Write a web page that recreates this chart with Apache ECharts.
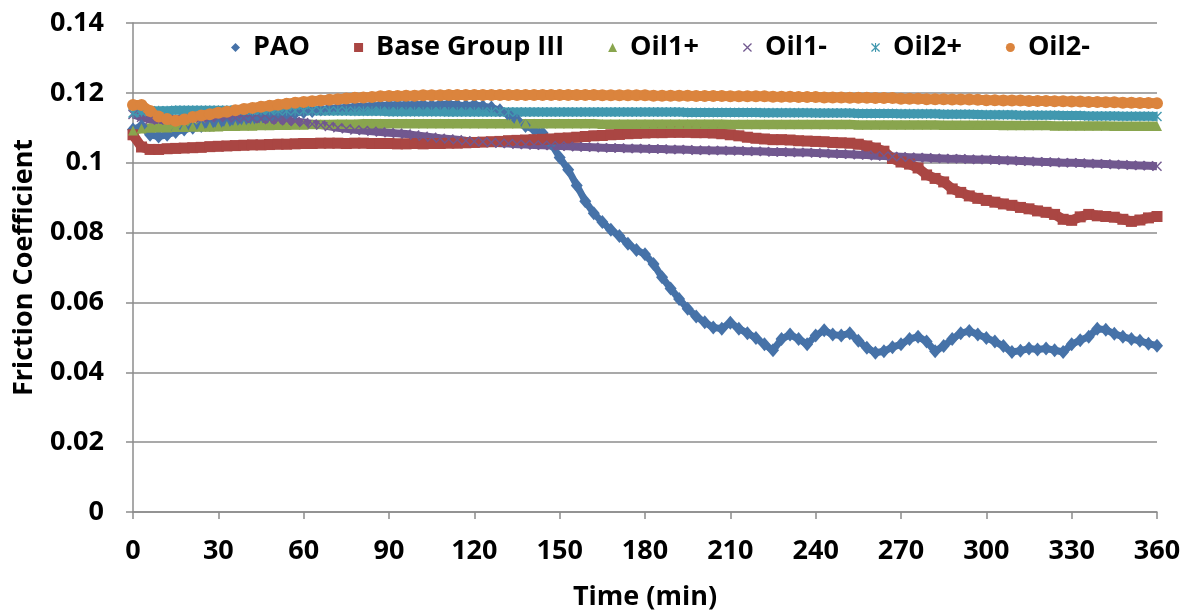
<!DOCTYPE html>
<html>
<head>
<meta charset="utf-8">
<script src="https://cdn.jsdelivr.net/npm/echarts@6/dist/echarts.min.js"></script>
<style>
html,body{margin:0;padding:0;background:#fff;}
#chart{width:1194px;height:616px;}
</style>
</head>
<body>
<div id="chart"></div>
<script>
// Time (min), sampled every 3 minutes
const time = [
  0,3,6,9,12,15,18,21,24,27,
  30,33,36,39,42,45,48,51,54,57,
  60,63,66,69,72,75,78,81,84,87,
  90,93,96,99,102,105,108,111,114,117,
  120,123,126,129,132,135,138,141,144,147,
  150,153,156,159,162,165,168,171,174,177,
  180,183,186,189,192,195,198,201,204,207,
  210,213,216,219,222,225,228,231,234,237,
  240,243,246,249,252,255,258,261,264,267,
  270,273,276,279,282,285,288,291,294,297,
  300,303,306,309,312,315,318,321,324,327,
  330,333,336,339,342,345,348,351,354,357,
  360
];

const seriesNames = ['PAO', 'Base Group III', 'Oil1+', 'Oil1-', 'Oil2+', 'Oil2-'];

const pao = [
  0.1095,0.1105,0.108,0.1075,0.108,0.1088,0.1095,0.110,0.1105,0.1108,
  0.111,0.1113,0.1118,0.112,0.1124,0.1128,0.113,0.1135,0.1138,0.1142,
  0.1145,0.1148,0.1152,0.1155,0.1157,0.1158,0.116,0.1162,0.1163,0.1164,
  0.1165,0.1166,0.1165,0.1167,0.1166,0.1164,0.1167,0.1168,0.1165,0.1163,
  0.1166,0.1162,0.1158,0.115,0.1138,0.1122,0.1105,0.1095,0.1085,0.1055,
  0.1015,0.098,0.0935,0.089,0.0855,0.083,0.0808,0.079,0.0768,0.075,
  0.0738,0.071,0.0672,0.064,0.061,0.0582,0.056,0.0543,0.0528,0.0525,
  0.0542,0.0525,0.0512,0.0498,0.048,0.0463,0.0495,0.0508,0.0495,0.048,
  0.0505,0.052,0.0508,0.0505,0.0512,0.049,0.047,0.0456,0.046,0.0472,
  0.048,0.0495,0.0502,0.0488,0.046,0.0475,0.0495,0.0512,0.0518,0.0508,
  0.0498,0.0488,0.0475,0.0458,0.0462,0.0468,0.0465,0.0468,0.0463,0.0458,
  0.048,0.0492,0.0502,0.0525,0.0522,0.051,0.0502,0.0495,0.049,0.0482,
  0.0476
];

const baseGroupIII = [
  0.108,0.1045,0.1038,0.1038,0.104,0.1041,0.1042,0.1043,0.1044,0.1046,
  0.1047,0.1048,0.1049,0.105,0.1051,0.1051,0.1052,0.1053,0.1053,0.1054,
  0.1055,0.1055,0.1056,0.1056,0.1056,0.1055,0.1056,0.1056,0.1055,0.1055,
  0.1055,0.1054,0.1054,0.1055,0.1054,0.1055,0.1055,0.1056,0.1056,0.1057,
  0.1058,0.1059,0.106,0.1061,0.1063,0.1064,0.1065,0.1066,0.1067,0.1068,
  0.107,0.1071,0.1073,0.1075,0.1077,0.1078,0.108,0.1081,0.1083,0.1084,
  0.1085,0.1086,0.1086,0.1087,0.1087,0.1087,0.1086,0.1086,0.1085,0.1083,
  0.108,0.1077,0.1073,0.107,0.1068,0.1066,0.1066,0.1065,0.1063,0.1062,
  0.1061,0.106,0.1058,0.1057,0.1056,0.1053,0.1048,0.1042,0.1033,0.1012,
  0.1002,0.0996,0.0985,0.0965,0.0955,0.0945,0.0925,0.0915,0.0905,0.0898,
  0.0892,0.0887,0.0882,0.0878,0.0872,0.0868,0.0862,0.0858,0.0852,0.0838,
  0.0835,0.0845,0.0852,0.0848,0.0846,0.0844,0.0838,0.0832,0.0836,0.0842,
  0.0846
];

const oil1Plus = [
  0.1092,0.1098,0.110,0.1101,0.1101,0.1102,0.1102,0.1103,0.1103,0.1103,
  0.1104,0.1105,0.1105,0.1106,0.1106,0.1107,0.1107,0.1108,0.1108,0.1109,
  0.1109,0.111,0.111,0.111,0.1111,0.1111,0.1111,0.1112,0.1112,0.1112,
  0.1112,0.1112,0.1112,0.1112,0.1112,0.1112,0.1112,0.1112,0.1112,0.1112,
  0.1112,0.1112,0.1112,0.1112,0.1112,0.1112,0.1112,0.1112,0.1112,0.1112,
  0.1112,0.1112,0.1112,0.1112,0.1112,0.1111,0.1111,0.1111,0.1111,0.1111,
  0.1111,0.1111,0.1111,0.1111,0.1111,0.1111,0.1111,0.1111,0.1111,0.1111,
  0.111,0.111,0.111,0.111,0.111,0.111,0.111,0.111,0.111,0.111,
  0.111,0.111,0.111,0.111,0.111,0.1109,0.1109,0.1109,0.1109,0.1109,
  0.1109,0.1109,0.1109,0.1109,0.1109,0.1108,0.1108,0.1108,0.1108,0.1108,
  0.1108,0.1108,0.1107,0.1107,0.1107,0.1107,0.1107,0.1107,0.1106,0.1106,
  0.1106,0.1106,0.1106,0.1106,0.1106,0.1105,0.1105,0.1105,0.1105,0.1105,
  0.1105
];

const oil1Minus = [
  0.1138,0.113,0.1124,0.1122,0.1123,0.1125,0.1127,0.1128,0.1129,0.1129,
  0.113,0.113,0.1129,0.1128,0.1127,0.1126,0.1124,0.1122,0.112,0.1118,
  0.1115,0.1111,0.1108,0.1104,0.11,0.1097,0.1094,0.1092,0.109,0.1088,
  0.1086,0.1084,0.1082,0.1079,0.1076,0.1073,0.107,0.1068,0.1066,0.1063,
  0.1061,0.106,0.1058,0.1056,0.1055,0.1053,0.1052,0.1051,0.105,0.1049,
  0.1048,0.1047,0.1046,0.1045,0.1044,0.1043,0.1042,0.1042,0.1041,0.1041,
  0.104,0.1039,0.1039,0.1038,0.1038,0.1037,0.1036,0.1036,0.1035,0.1035,
  0.1034,0.1034,0.1033,0.1033,0.1032,0.1031,0.1031,0.103,0.1029,0.1029,
  0.1028,0.1027,0.1026,0.1025,0.1024,0.1023,0.1022,0.102,0.1019,0.1018,
  0.1017,0.1016,0.1015,0.1014,0.1013,0.1012,0.1011,0.1011,0.101,0.1009,
  0.1009,0.1008,0.1007,0.1006,0.1005,0.1004,0.1003,0.1002,0.1001,0.1,
  0.1,0.0999,0.0998,0.0997,0.0996,0.0995,0.0994,0.0993,0.0992,0.0991,
  0.099
];

const oil2Plus = [
  0.1142,0.1146,0.1148,0.1149,0.1149,0.115,0.115,0.115,0.115,0.115,
  0.115,0.115,0.115,0.115,0.115,0.115,0.115,0.1149,0.1149,0.1149,
  0.1149,0.1149,0.1148,0.1148,0.1148,0.1148,0.1147,0.1147,0.1147,0.1147,
  0.1146,0.1146,0.1146,0.1146,0.1146,0.1146,0.1146,0.1145,0.1145,0.1145,
  0.1145,0.1145,0.1145,0.1145,0.1145,0.1145,0.1145,0.1145,0.1145,0.1145,
  0.1145,0.1145,0.1145,0.1145,0.1145,0.1145,0.1145,0.1145,0.1145,0.1145,
  0.1145,0.1145,0.1145,0.1145,0.1145,0.1144,0.1144,0.1144,0.1144,0.1144,
  0.1144,0.1144,0.1144,0.1144,0.1143,0.1143,0.1143,0.1143,0.1143,0.1143,
  0.1142,0.1142,0.1142,0.1142,0.1142,0.1141,0.1141,0.1141,0.1141,0.1141,
  0.114,0.114,0.114,0.114,0.114,0.1139,0.1139,0.1139,0.1139,0.1138,
  0.1137,0.1137,0.1137,0.1137,0.1136,0.1136,0.1136,0.1136,0.1136,0.1135,
  0.1135,0.1135,0.1134,0.1134,0.1134,0.1134,0.1133,0.1133,0.1133,0.1133,
  0.1132
];

const oil2Minus = [
  0.1165,0.1165,0.1148,0.1132,0.1125,0.112,0.1124,0.1131,0.1135,0.1139,
  0.1143,0.1146,0.115,0.1154,0.1157,0.116,0.1163,0.1166,0.1169,0.1172,
  0.1174,0.1176,0.1178,0.118,0.1182,0.1184,0.1186,0.1187,0.1188,0.119,
  0.1191,0.1191,0.1192,0.1192,0.1193,0.1193,0.1193,0.1194,0.1194,0.1194,
  0.1194,0.1194,0.1194,0.1194,0.1194,0.1194,0.1194,0.1194,0.1194,0.1194,
  0.1194,0.1194,0.1194,0.1194,0.1194,0.1193,0.1193,0.1193,0.1193,0.1193,
  0.1193,0.1192,0.1192,0.1192,0.1192,0.1192,0.1191,0.1191,0.1191,0.1191,
  0.119,0.119,0.119,0.119,0.119,0.1189,0.1189,0.1189,0.1188,0.1188,
  0.1188,0.1187,0.1187,0.1187,0.1186,0.1186,0.1186,0.1185,0.1185,0.1185,
  0.1183,0.1183,0.1183,0.1182,0.1182,0.1182,0.1181,0.1181,0.1181,0.118,
  0.1179,0.1179,0.1178,0.1178,0.1178,0.1177,0.1177,0.1177,0.1176,0.1176,
  0.1175,0.1175,0.1174,0.1174,0.1173,0.1173,0.1172,0.1172,0.1171,0.1171,
  0.117
];

const yTicks = { min: 0, max: 0.14, interval: 0.02 };
const xTicks = { min: 0, max: 360, interval: 30 };

const colors = ['#4672A8', '#AA4643', '#89A54E', '#71588F', '#4198AF', '#DB843D'];
const X_PATH = 'path://M1,0L5,4L9,0L10,1L6,5L10,9L9,10L5,6L1,10L0,9L4,5L0,1Z';
const AST_PATH = 'path://M1,0L5,4L9,0L10,1L6,5L10,9L9,10L5,6L1,10L0,9L4,5L0,1Z M4.4,0L5.6,0L5.6,10L4.4,10Z';
const symbols = ['diamond', 'rect', 'triangle', X_PATH, AST_PATH, 'circle'];
const symbolSizes = [[12, 14], 11, 10, 10, 10, 12];
const lineWidths = [7, 10, 9, 8, 9, 10];
const allValues = [pao, baseGroupIII, oil1Plus, oil1Minus, oil2Plus, oil2Minus];

const FONT = '"Open Sans", "DejaVu Sans", sans-serif';

const series = allValues.map((vals, k) => ({
  name: seriesNames[k],
  type: 'line',
  data: time.map((t, i) => [t, vals[i]]),
  symbol: symbols[k],
  symbolSize: symbolSizes[k],
  showAllSymbol: true,
  lineStyle: { width: lineWidths[k], color: colors[k] },
  itemStyle: { color: colors[k] },
  emphasis: { disabled: true },
  animation: false
}));

const chart = echarts.init(document.getElementById('chart'), null, { renderer: 'canvas' });
chart.setOption({
  backgroundColor: '#ffffff',
  animation: false,
  grid: { left: 133, right: 37, top: 23, bottom: 102, containLabel: false },
  legend: {
    left: 226,
    top: 29,
    itemWidth: 9,
    itemHeight: 9,
    itemGap: 44,
    data: seriesNames.map((n, k) => ({ name: n, icon: symbols[k], itemStyle: { color: colors[k] } })),
    textStyle: { fontFamily: FONT, fontWeight: 'bold', fontSize: 27, color: '#000', padding: [0, 0, 0, 8] },
    selectedMode: false
  },
  xAxis: {
    type: 'value',
    min: xTicks.min, max: xTicks.max, interval: xTicks.interval,
    name: 'Time (min)',
    nameLocation: 'middle',
    nameGap: 72,
    nameTextStyle: { fontFamily: FONT, fontWeight: 'bold', fontSize: 27, color: '#000' },
    axisLine: { show: true, lineStyle: { color: '#8c8c8c', width: 1.5 } },
    axisTick: { show: true, inside: false, length: 7, lineStyle: { color: '#8c8c8c', width: 1.5 } },
    axisLabel: { margin: 26, fontFamily: FONT, fontWeight: 'bold', fontSize: 27, color: '#000' },
    splitLine: { show: false }
  },
  yAxis: {
    type: 'value',
    min: yTicks.min, max: yTicks.max, interval: yTicks.interval,
    name: 'Friction Coefficient',
    nameLocation: 'middle',
    nameGap: 95,
    nameTextStyle: { fontFamily: FONT, fontWeight: 'bold', fontSize: 27, color: '#000' },
    axisLine: { show: true, lineStyle: { color: '#8c8c8c', width: 1.5 } },
    axisTick: { show: true, inside: false, length: 7, lineStyle: { color: '#8c8c8c', width: 1.5 } },
    axisLabel: { margin: 29, fontFamily: FONT, fontWeight: 'bold', fontSize: 27, color: '#000' },
    splitLine: { show: true, lineStyle: { color: '#8c8c8c', width: 1.5 } }
  },
  series: series
});
</script>
</body>
</html>
